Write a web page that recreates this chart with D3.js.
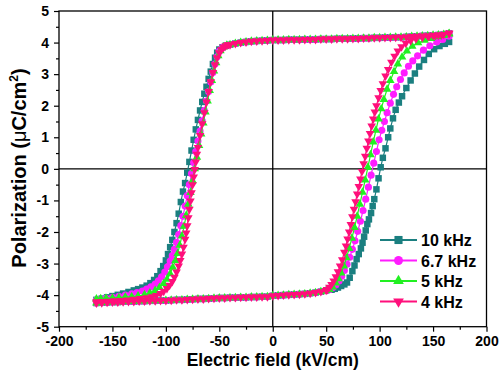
<!DOCTYPE html>
<html><head><meta charset="utf-8">
<script src="https://cdn.jsdelivr.net/npm/d3@7"></script>
<style>
body{margin:0;background:#fff}
svg{display:block}
text{font-family:"Liberation Sans",Arial,sans-serif;font-weight:bold;fill:#000}
</style>
</head><body>
<svg id="chart" width="500" height="380"></svg>
<script>
// ---- data ----
const xMajorTicks = [-200,-150,-100,-50,0,50,100,150,200];
const xMinorTicks = [-175,-125,-75,-25,25,75,125,175];
const yMajorTicks = [-5,-4,-3,-2,-1,0,1,2,3,4,5];
const yMinorTicks = [-4.5,-3.5,-2.5,-1.5,-0.5,0.5,1.5,2.5,3.5,4.5];

const seriesNames = ["10 kHz","6.7 kHz","5 kHz","4 kHz"];
const seriesColors = ["#1b7f80","#ff1cff","#22f022","#ff0f7b"];
const seriesSymbols = ["square","circle","triangle","triangleDown"];

// upper plateau of the descending branch (all frequencies overlap here)
const topPlateau = [[165,4.29],[160,4.26],[155,4.24],[150,4.23],[145,4.22],[140,4.21],[135,4.20],[130,4.19],[125,4.18],[120,4.17],[115,4.17],[110,4.16],[105,4.16],[100,4.15],[95,4.15],[90,4.14],[85,4.14],[80,4.13],[75,4.13],[70,4.12],[65,4.12],[60,4.12],[55,4.11],[50,4.11],[45,4.11],[40,4.10],[35,4.10],[30,4.10],[25,4.09],[20,4.09],[15,4.09],[10,4.08],[5,4.08],[0,4.08],[-5,4.07],[-10,4.06],[-15,4.05],[-20,4.04],[-25,4.02],[-30,4.00],[-35,3.97],[-40,3.93]];
// lower plateau of the ascending branch (all frequencies overlap here)
const bottomPlateau = [[-165,-4.25],[-160,-4.24],[-155,-4.23],[-150,-4.22],[-145,-4.22],[-140,-4.21],[-135,-4.20],[-130,-4.20],[-125,-4.19],[-120,-4.19],[-115,-4.18],[-110,-4.18],[-105,-4.17],[-100,-4.17],[-95,-4.16],[-90,-4.15],[-85,-4.15],[-80,-4.14],[-75,-4.13],[-70,-4.12],[-65,-4.12],[-60,-4.11],[-55,-4.10],[-50,-4.09],[-45,-4.09],[-40,-4.08],[-35,-4.08],[-30,-4.07],[-25,-4.07],[-20,-4.06],[-15,-4.06],[-10,-4.05],[-5,-4.05],[0,-4.02],[5,-4.01],[10,-4.00],[15,-3.99],[20,-3.98],[25,-3.97],[30,-3.96],[35,-3.94],[40,-3.92],[45,-3.89],[50,-3.85]];

// 10 kHz
const down10 = [[-44,3.90],[-47,3.85],[-50,3.78],[-52,3.68],[-54,3.52],[-56,3.32],[-58,3.08],[-60,2.85],[-62,2.60],[-64,2.38],[-66,2.12],[-68,1.85],[-70,1.55],[-72,1.25],[-74,0.92],[-76,0.58],[-78,0.22],[-80,-0.12],[-82,-0.45],[-84,-0.72],[-86,-1.05],[-88,-1.42],[-90,-1.72],[-92,-2.00],[-94,-2.25],[-96,-2.48],[-98,-2.70],[-100,-2.90],[-102.5,-3.08],[-105,-3.24],[-108,-3.40],[-111,-3.52],[-114.5,-3.62],[-118,-3.70],[-122,-3.76],[-126,-3.81],[-130,-3.85],[-135,-3.90],[-140,-3.95],[-145,-3.99],[-150,-4.03],[-155,-4.07],[-160,-4.11],[-165,-4.15]];
const up10 = [[55,-3.83],[58,-3.80],[61,-3.76],[64,-3.71],[67,-3.66],[69.5,-3.60],[72,-3.45],[74.5,-3.24],[76.5,-3.06],[78.5,-2.86],[80.5,-2.70],[82.5,-2.52],[84,-2.34],[85.5,-2.15],[87,-1.95],[88.5,-1.75],[90,-1.60],[92,-1.40],[93.5,-1.18],[95,-0.96],[97,-0.65],[99,-0.30],[101,0.05],[103,0.35],[105.5,0.65],[108,1.00],[110,1.28],[112.5,1.60],[115,1.87],[118,2.10],[121,2.30],[125,2.56],[129,2.80],[133,3.02],[137,3.24],[141.5,3.45],[146,3.64],[151,3.79],[156,3.89],[161,3.96],[165,4.02]];
// 6.7 kHz
const down67 = [[-44,3.90],[-47,3.84],[-50,3.72],[-52,3.55],[-54,3.32],[-56,3.05],[-58,2.75],[-60,2.45],[-62,2.15],[-64,1.85],[-66,1.52],[-68,1.20],[-70,0.88],[-72,0.55],[-74,0.20],[-76,-0.15],[-78,-0.50],[-80,-0.85],[-82,-1.18],[-84,-1.50],[-86,-1.80],[-88,-2.08],[-90,-2.33],[-92,-2.55],[-94,-2.75],[-96,-2.92],[-98.5,-3.10],[-101,-3.27],[-104,-3.42],[-107,-3.55],[-110,-3.65],[-114,-3.74],[-118,-3.81],[-122,-3.87],[-127,-3.92],[-132,-3.96],[-138,-4.00],[-144,-4.04],[-150,-4.07],[-156,-4.10],[-161,-4.13],[-165,-4.16]];
const up67 = [[53,-3.83],[56,-3.77],[59,-3.68],[62,-3.55],[64.5,-3.40],[67,-3.22],[69.5,-3.02],[72,-2.80],[74.5,-2.55],[77,-2.28],[79.5,-1.98],[82,-1.66],[84.5,-1.32],[87,-0.96],[89.5,-0.58],[92,-0.20],[94.5,0.18],[97,0.55],[99.5,0.92],[102,1.22],[104.5,1.50],[107,1.78],[110,2.08],[113,2.36],[116,2.60],[119.5,2.83],[123,3.04],[127,3.25],[131,3.42],[135.5,3.58],[141,3.76],[147,3.90],[153.5,4.02],[159,4.10],[165,4.20]];
// 5 kHz
const down5 = [[-43,3.92],[-46,3.86],[-49,3.74],[-51,3.58],[-53,3.36],[-55,3.10],[-57,2.80],[-59,2.48],[-61,2.15],[-63,1.80],[-65,1.45],[-67,1.10],[-69,0.74],[-71,0.37],[-73,0.00],[-75,-0.38],[-77,-0.75],[-79,-1.12],[-81,-1.48],[-83,-1.82],[-85,-2.13],[-87,-2.42],[-89,-2.68],[-91,-2.90],[-93.5,-3.12],[-96,-3.32],[-99,-3.50],[-102,-3.63],[-106,-3.76],[-110,-3.85],[-115,-3.93],[-120,-3.99],[-126,-4.03],[-132,-4.05],[-138,-4.06],[-144,-4.08],[-150,-4.09],[-156,-4.10],[-161,-4.11],[-165,-4.12]];
const up5 = [[53,-3.82],[56,-3.74],[59,-3.62],[61.5,-3.48],[64,-3.30],[66.5,-3.08],[69,-2.82],[71.5,-2.52],[74,-2.20],[76.5,-1.86],[79,-1.50],[81.5,-1.12],[84,-0.74],[86.5,-0.35],[89,0.05],[91.5,0.45],[94,0.85],[96.5,1.22],[99,1.58],[101.5,1.90],[104,2.20],[107,2.52],[110,2.80],[113.5,3.08],[117,3.32],[121,3.54],[125.5,3.73],[130.5,3.88],[136,3.99],[142,4.07],[148,4.13],[154,4.18],[160,4.22],[165,4.27]];
// 4 kHz
const down4 = [[-42,3.93],[-44,3.90],[-46,3.85],[-48,3.78],[-50,3.68],[-52,3.52],[-54,3.30],[-56,3.05],[-58,2.76],[-60,2.45],[-62,2.12],[-64,1.78],[-66,1.43],[-68,1.06],[-70,0.68],[-71,0.46],[-72,0.22],[-73,-0.02],[-74,-0.26],[-75,-0.50],[-76,-0.76],[-77,-1.02],[-78,-1.28],[-79,-1.55],[-80,-1.80],[-81,-2.03],[-82,-2.23],[-83.5,-2.48],[-85,-2.70],[-86.5,-2.90],[-88,-3.08],[-90,-3.27],[-92,-3.43],[-94,-3.57],[-96.5,-3.69],[-99,-3.79],[-102,-3.88],[-105,-3.95],[-109,-4.01],[-113,-4.05],[-118,-4.08],[-124,-4.11],[-130,-4.13],[-136,-4.15],[-142,-4.17],[-148,-4.18],[-154,-4.19],[-160,-4.20],[-165,-4.21]];
const up4 = [[51,-3.82],[53,-3.75],[55,-3.66],[57,-3.55],[59,-3.42],[61,-3.26],[63,-3.08],[65,-2.88],[67,-2.64],[68.5,-2.44],[70,-2.22],[71.5,-2.00],[73,-1.76],[74.5,-1.52],[76,-1.28],[77.5,-1.04],[79,-0.80],[80.5,-0.56],[82,-0.32],[83.5,-0.08],[85,0.16],[86.5,0.40],[88,0.65],[89.5,0.88],[91,1.12],[92.5,1.36],[94,1.58],[95.5,1.80],[97,2.00],[99,2.25],[101,2.48],[103,2.70],[105.5,2.94],[108,3.15],[111,3.38],[114,3.57],[117,3.73],[120.5,3.87],[124.5,3.98],[129,4.06],[134,4.12],[140,4.16],[146,4.19],[152,4.22],[158,4.25],[165,4.30]];

const downBranches = [down10, down67, down5, down4];
const upBranches = [up10, up67, up5, up4];

// ---- chart ----
const svg = d3.select("#chart");
const x = d3.scaleLinear().domain([-200,200]).range([59,486.5]);
const y = d3.scaleLinear().domain([-5,5]).range([326.7,11]);

const loops = seriesNames.map((n,i)=>topPlateau.concat(downBranches[i], bottomPlateau, upBranches[i]));

function symbolPath(kind){
  if(kind==="square") return d3.symbol(d3.symbolSquare,42)();
  if(kind==="circle") return d3.symbol(d3.symbolCircle,40)();
  return d3.symbol(d3.symbolTriangle,32)();
}

// zero lines
svg.append("line").attr("x1",x(0)).attr("x2",x(0)).attr("y1",y(5)).attr("y2",y(-5)).attr("stroke","#000").attr("stroke-width",1.3);
svg.append("line").attr("x1",x(-200)).attr("x2",x(200)).attr("y1",y(0)).attr("y2",y(0)).attr("stroke","#000").attr("stroke-width",1.3);

const line = d3.line().x(d=>x(d[0])).y(d=>y(d[1]));
loops.forEach((pts,i)=>{
  const g = svg.append("g");
  g.append("path").attr("d",line(pts)).attr("fill","none").attr("stroke",seriesColors[i]).attr("stroke-width",1.2);
  const sp = symbolPath(seriesSymbols[i]);
  const rot = seriesSymbols[i]==="triangleDown" ? " rotate(180)" : "";
  g.selectAll("path.m").data(pts).join("path").attr("class","m")
    .attr("d",sp)
    .attr("transform",d=>`translate(${x(d[0])},${y(d[1])})${rot}`)
    .attr("fill",seriesColors[i]);
});

// frame
svg.append("rect").attr("x",x(-200)).attr("y",y(5)).attr("width",x(200)-x(-200)).attr("height",y(-5)-y(5))
  .attr("fill","none").attr("stroke","#000").attr("stroke-width",1.3);

// axes
const xAxis = svg.append("g").attr("transform",`translate(0,${y(-5)})`)
  .call(d3.axisBottom(x).tickValues(xMajorTicks).tickSize(5).tickPadding(4).tickFormat(d3.format("d")));
svg.append("g").attr("transform",`translate(0,${y(-5)})`)
  .call(d3.axisBottom(x).tickValues(xMinorTicks).tickSize(3).tickFormat(""));
const yAxis = svg.append("g").attr("transform",`translate(${x(-200)},0)`)
  .call(d3.axisLeft(y).tickValues(yMajorTicks).tickSize(5).tickPadding(5).tickFormat(d3.format("d")));
svg.append("g").attr("transform",`translate(${x(-200)},0)`)
  .call(d3.axisLeft(y).tickValues(yMinorTicks).tickSize(3).tickFormat(""));
svg.selectAll(".domain").remove();
svg.selectAll(".tick line").attr("stroke","#000").attr("stroke-width",1.2);
svg.selectAll(".tick text").attr("font-size",14).attr("font-family","Liberation Sans, Arial, sans-serif").attr("font-weight","bold").attr("fill","#000");
xAxis.selectAll(".tick text").text(d=>d<0?"-"+Math.abs(d):String(d));
yAxis.selectAll(".tick text").text(d=>d<0?"-"+Math.abs(d):String(d));

// axis titles
svg.append("text").attr("x",x(0)).attr("y",366).attr("text-anchor","middle").attr("font-size",17.5)
  .text("Electric field (kV/cm)");
const yt = svg.append("text").attr("transform","translate(26,168) rotate(-90)").attr("text-anchor","middle").attr("font-size",20);
yt.append("tspan").text("Polarization (");
yt.append("tspan").attr("font-weight","normal").text("\u03BC");
yt.append("tspan").text("C/cm");
yt.append("tspan").attr("font-size",12).attr("dy",-8).text("2");
yt.append("tspan").attr("dy",8).text(")");

// legend
const legY = [240,260.5,281,301.5];
seriesNames.forEach((n,i)=>{
  const g = svg.append("g").attr("transform",`translate(0,${legY[i]})`);
  g.append("line").attr("x1",380).attr("x2",417).attr("y1",0).attr("y2",0).attr("stroke",seriesColors[i]).attr("stroke-width",2);
  const rot = seriesSymbols[i]==="triangleDown" ? " rotate(180)" : "";
  g.append("path").attr("d",symbolPath(seriesSymbols[i])).attr("transform",`translate(398.5,0)${rot} scale(1.25)`).attr("fill",seriesColors[i]);
  g.append("text").attr("x",421).attr("y",6).attr("font-size",16).text(n);
});
</script>
</body></html>
